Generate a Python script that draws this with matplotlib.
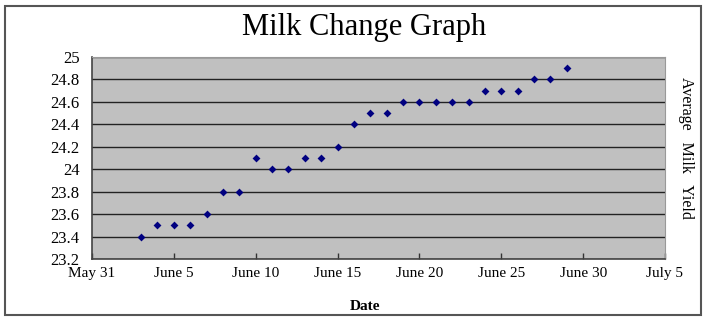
import matplotlib
matplotlib.use("Agg")
import matplotlib.pyplot as plt
from matplotlib.patches import Rectangle
import datetime as dt

# Data
days = [3, 4, 5, 6, 7, 8, 9, 10, 11, 12, 13, 14, 15, 16, 17, 18, 19, 20,
        21, 22, 23, 24, 25, 26, 27, 28, 29]
yields = [23.4, 23.5, 23.5, 23.5, 23.6, 23.8, 23.8, 24.1, 24.0, 24.0, 24.1,
          24.1, 24.2, 24.4, 24.5, 24.5, 24.6, 24.6, 24.6, 24.6, 24.6, 24.7,
          24.7, 24.7, 24.8, 24.8, 24.9]
x_tick_labels = ["May 31", "June 5", "June 10", "June 15", "June 20",
                 "June 25", "June 30", "July 5"]
y_ticks = [23.2, 23.4, 23.6, 23.8, 24.0, 24.2, 24.4, 24.6, 24.8, 25.0]
y_tick_labels = ["23.2", "23.4", "23.6", "23.8", "24", "24.2", "24.4",
                 "24.6", "24.8", "25"]

dates = [dt.date(2000, 6, d) for d in days]
start = dt.date(2000, 5, 31)
x_ticks = [start + dt.timedelta(days=5 * i) for i in range(len(x_tick_labels))]

serif = ["Liberation Serif", "DejaVu Serif"]

fig = plt.figure(figsize=(7.07, 3.20), dpi=100)
fig.patch.set_facecolor("white")
# outer frame
fig.patches.append(Rectangle((0.007, 0.016), 0.984, 0.966, transform=fig.transFigure,
                             fill=False, edgecolor="#555555", linewidth=1.5))

ax = fig.add_axes([92 / 707, 1 - 259 / 320, (665 - 92) / 707, (259 - 57) / 320])
ax.set_facecolor("#C0C0C0")
ax.scatter(dates, yields, marker="D", s=16, color="#000080", zorder=3, linewidths=0)

ax.set_xlim(x_ticks[0], x_ticks[-1])
ax.set_ylim(23.2, 25.0)
ax.set_xticks(x_ticks)
ax.set_xticklabels(x_tick_labels, fontfamily=serif, fontsize=11)
ax.set_yticks(y_ticks)
ax.set_yticklabels(y_tick_labels, fontfamily=serif, fontsize=12)
ax.yaxis.grid(True, color="#222222", linewidth=1.0)
ax.set_axisbelow(True)
ax.tick_params(axis="x", direction="in", length=4, width=1, color="#333333", pad=6)
ax.tick_params(axis="y", direction="out", length=0, pad=9)
for side in ["left", "bottom"]:
    ax.spines[side].set_color("#444444")
    ax.spines[side].set_linewidth(1.2)
for side in ["top", "right"]:
    ax.spines[side].set_color("#999999")
    ax.spines[side].set_linewidth(0.8)

fig.text(364 / 707, 1 - 28 / 320, "Milk Change Graph", ha="center", va="center",
         fontfamily=serif, fontsize=22)
fig.text(365 / 707, 1 - 306 / 320, "Date", ha="center", va="center",
         fontfamily=serif, fontsize=11, fontweight="bold")
fig.text(686 / 707, 1 - 148 / 320, "Average   Milk   Yield", ha="center", va="center",
         rotation=-90, fontfamily=serif, fontsize=11.5)

fig.savefig("out.png", dpi=100)
